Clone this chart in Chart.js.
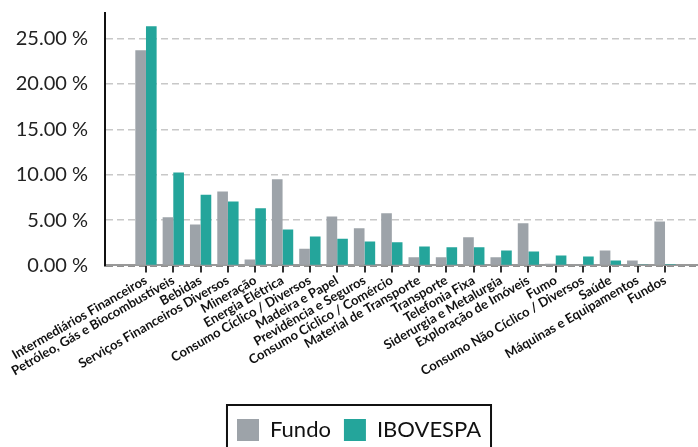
<!DOCTYPE html>
<html>
<head>
<meta charset="utf-8">
<script src="https://cdn.jsdelivr.net/npm/chart.js@4.4.1/dist/chart.umd.min.js"></script>
<style>
  html, body { margin: 0; padding: 0; background: #fff; overflow: hidden; }
  #wrap { width: 706px; height: 451px; }
</style>
</head>
<body>
<div id="wrap"><canvas id="myChart"></canvas></div>
<script>
"use strict";

let categories = [
  "Intermediários Financeiros",
  "Petróleo, Gás e Biocombustíveis",
  "Bebidas",
  "Serviços Financeiros Diversos",
  "Mineração",
  "Energia Elétrica",
  "Consumo Cíclico / Diversos",
  "Madeira e Papel",
  "Previdência e Seguros",
  "Consumo Cíclico / Comércio",
  "Material de Transporte",
  "Transporte",
  "Telefonia Fixa",
  "Siderurgia e Metalurgia",
  "Exploração de Imóveis",
  "Fumo",
  "Consumo Não Cíclico / Diversos",
  "Saúde",
  "Máquinas e Equipamentos",
  "Fundos",
];
let fundo = [23.7, 5.3, 4.5, 8.15, 0.65, 9.5, 1.85, 5.4, 4.1, 5.75, 0.9, 0.9, 3.1, 0.9, 4.65, 0.2, 0.1, 1.65, 0.55, 4.85];
let ibovespa = [26.35, 10.25, 7.8, 7.05, 6.3, 3.95, 3.2, 2.95, 2.65, 2.55, 2.1, 2.0, 2.0, 1.65, 1.55, 1.1, 1.0, 0.55, 0.12, 0.15];
let yTicks = [0, 5, 10, 15, 20, 25];

// empty slot at each end, like the original axis
const labels = ["", ...categories, ""];
const last = labels.length - 1;

Chart.defaults.font.family = "Lato";
Chart.defaults.color = "#111";

const legendFrame = {
  id: "legendFrame",
  afterDraw(chart) {
    const boxes = chart.legend.legendHitBoxes;
    if (!boxes || !boxes.length) return;
    const a = boxes[0];
    const b = boxes[boxes.length - 1];
    const ctx = chart.ctx;
    ctx.save();
    ctx.strokeStyle = "#111";
    ctx.lineWidth = 2;
    ctx.strokeRect(a.left - 10, a.top - 14, b.left + b.width - a.left + 20, 90);
    ctx.restore();
  },
};

const ctx = document.getElementById("myChart");

new Chart(ctx, {
  type: "bar",
  data: {
    labels: labels,
    datasets: [
      {
        label: "Fundo",
        data: [null, ...fundo, null],
        backgroundColor: "#9da3a9",
      },
      {
        label: "IBOVESPA",
        data: [null, ...ibovespa, null],
        backgroundColor: "#24a59b",
      },
    ],
  },
  options: {
    responsive: true,
    maintainAspectRatio: false,
    animation: false,
    categoryPercentage: 0.78,
    barPercentage: 1.0,
    layout: {
      padding: { left: 12, top: 13, right: 0, bottom: 0 },
    },
    plugins: {
      tooltip: { enabled: false },
      legend: {
        position: "bottom",
        labels: {
          boxWidth: 22,
          boxHeight: 22,
          padding: 13,
          font: { size: 22 },
          color: "#111",
        },
      },
    },
    scales: {
      x: {
        afterFit: (scale) => {
          scale.height += 27;
        },
        grid: {
          offset: false,
          drawOnChartArea: false,
          drawTicks: true,
          tickLength: 7,
          lineWidth: 2,
          color: (c) => (c.index === 0 || c.index === last ? "rgba(0,0,0,0)" : "#333"),
        },
        border: { color: "#999", width: 2 },
        ticks: {
          autoSkip: false,
          maxRotation: 30,
          minRotation: 30,
          padding: 0,
          font: { size: 13, weight: "bold" },
          color: "#111",
        },
      },
      y: {
        min: 0,
        max: 27.8,
        afterBuildTicks: (scale) => {
          scale.ticks = yTicks.map((v) => ({ value: v }));
        },
        afterFit: (scale) => {
          scale.width = 93;
          scale.paddingTop = 0;
          scale.paddingBottom = 0;
        },
        grid: {
          drawTicks: false,
          lineWidth: 1.5,
          color: (c) => (c.tick && c.tick.value === 0 ? "#222" : "#c8c8c8"),
        },
        border: { color: "#111", width: 2, dash: [7, 4] },
        ticks: {
          padding: 17,
          font: { size: 20 },
          color: "#222",
          callback: (v) => v.toFixed(2) + " %",
        },
      },
    },
  },
  plugins: [legendFrame],
});
</script>
</body>
</html>
